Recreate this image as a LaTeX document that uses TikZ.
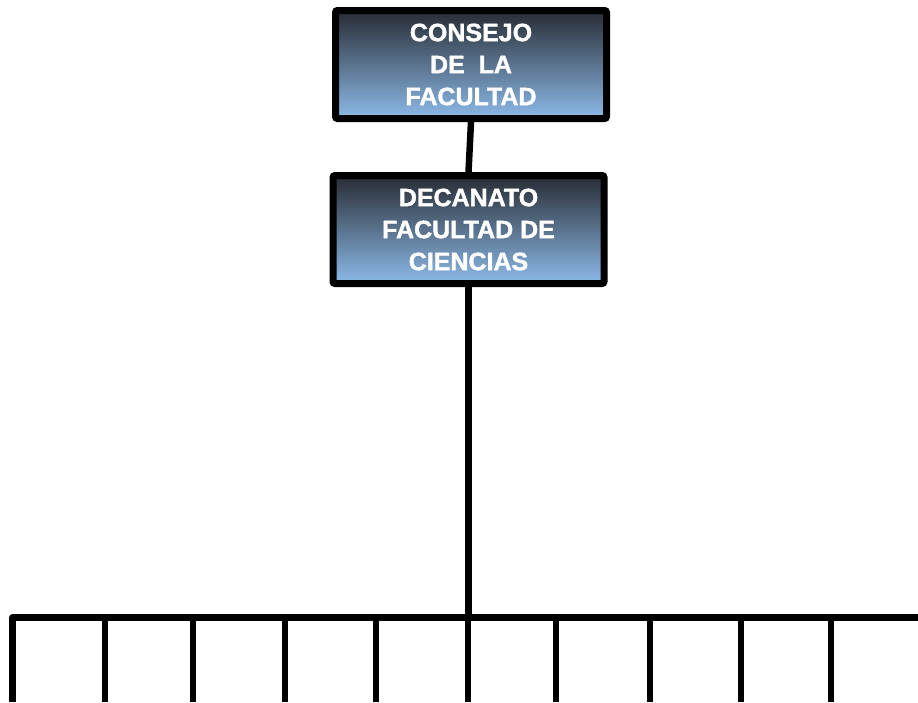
\documentclass[tikz,border=0pt]{standalone}
\usepackage{fontspec}
\setmainfont{Liberation Sans}[BoldFeatures={FakeBold=1.5}]
\usetikzlibrary{positioning}
\definecolor{boxtop}{RGB}{40,44,52}
\definecolor{boxbottom}{RGB}{140,186,232}
\tikzset {
  node distance={50pt},
  % boxes of the organigram
  unit/.style = {draw, line width=7pt, rounded corners=2pt, top color=boxtop, bottom color=boxbottom,
    text=white, font=\fontsize{25}{32}\selectfont\bfseries, align=center,
    minimum width=271pt, minimum height=108pt, inner sep=0pt},
  % connecting lines
  link/.style = {line width=6.5pt, line join=round},
}

\begin{document}
\begin{tikzpicture}[x=1pt, y=-1pt]
        \useasboundingbox (0,0) rectangle (918,702);
        \node[unit] (consejo) at (471,64.5) {CONSEJO\\DE\ \ LA\\FACULTAD};
        \node[unit] (decanato) [below=of consejo, xshift=-2.5pt] {DECANATO\\FACULTAD DE\\CIENCIAS};

        \coordinate (busleft) at (12.7,617.5);
        \coordinate (busright) at (918,617.5);
        \coordinate (leftend) at (12.7,702);

        \draw [link] (consejo.south) -- (decanato.north);
        \draw [link] (decanato.south) -- (decanato.south |- busleft);
        \draw [link] (leftend) -- (busleft) -- (busright);
        \foreach \x [count=\i] in {105,193,285,376,468,556,650,741,831} {
          \coordinate (drop\i) at (\x,617.5);
          \coordinate (end\i) at (\x,702);
          \draw [link] (drop\i) -- (end\i);
        }
      \end{tikzpicture}
\end{document}
